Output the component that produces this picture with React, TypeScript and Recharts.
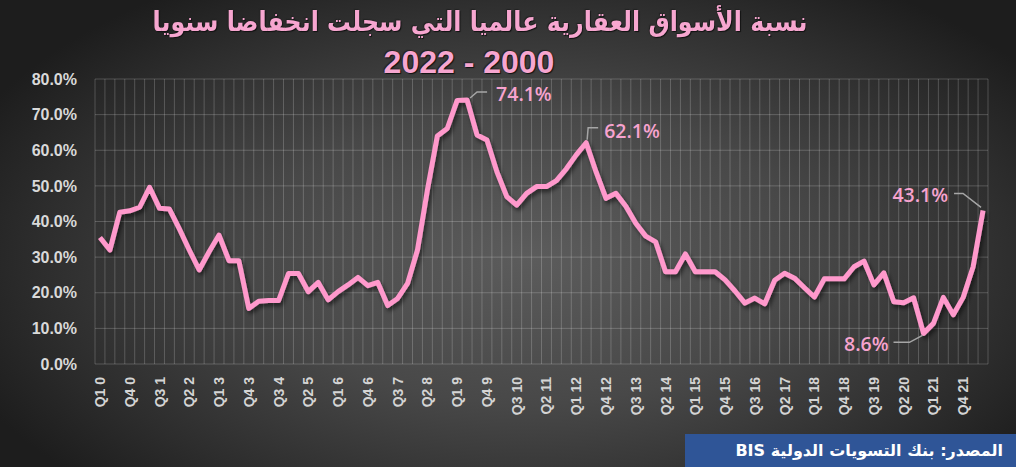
import React from 'react';
import { LineChart, Line, XAxis, YAxis, CartesianGrid } from 'recharts';

const quarters: string[] = [
  'Q1 0','Q2 0','Q3 0','Q4 0','Q1 1','Q2 1','Q3 1','Q4 1','Q1 2','Q2 2','Q3 2','Q4 2',
  'Q1 3','Q2 3','Q3 3','Q4 3','Q1 4','Q2 4','Q3 4','Q4 4','Q1 5','Q2 5','Q3 5','Q4 5',
  'Q1 6','Q2 6','Q3 6','Q4 6','Q1 7','Q2 7','Q3 7','Q4 7','Q1 8','Q2 8','Q3 8','Q4 8',
  'Q1 9','Q2 9','Q3 9','Q4 9','Q1 10','Q2 10','Q3 10','Q4 10','Q1 11','Q2 11','Q3 11','Q4 11',
  'Q1 12','Q2 12','Q3 12','Q4 12','Q1 13','Q2 13','Q3 13','Q4 13','Q1 14','Q2 14','Q3 14','Q4 14',
  'Q1 15','Q2 15','Q3 15','Q4 15','Q1 16','Q2 16','Q3 16','Q4 16','Q1 17','Q2 17','Q3 17','Q4 17',
  'Q1 18','Q2 18','Q3 18','Q4 18','Q1 19','Q2 19','Q3 19','Q4 19','Q1 20','Q2 20','Q3 20','Q4 20',
  'Q1 21','Q2 21','Q3 21','Q4 21','Q1 22','Q2 22',
];

const shareDeclining: number[] = [
  35.5, 32.0, 42.6, 43.0, 44.0, 49.6, 43.7, 43.5, 37.9, 32.0, 26.4, 31.5,
  36.2, 29.0, 29.0, 15.6, 17.6, 17.8, 17.8, 25.4, 25.4, 20.3, 22.9, 18.0,
  20.3, 22.2, 24.3, 22.0, 22.9, 16.4, 18.4, 22.6, 32.0, 48.8, 64.0, 66.1,
  74.0, 74.1, 64.3, 62.9, 54.0, 47.0, 44.6, 47.9, 49.8, 49.8, 51.5, 54.8,
  58.7, 62.1, 53.9, 46.5, 47.9, 44.3, 39.5, 35.9, 34.3, 25.9, 25.9, 30.9,
  25.9, 25.9, 25.9, 23.6, 20.5, 17.1, 18.5, 16.9, 23.5, 25.5, 24.1, 21.4,
  18.8, 23.9, 23.9, 23.9, 27.3, 28.9, 22.2, 25.6, 17.5, 17.2, 18.6, 8.6,
  11.4, 18.7, 13.8, 18.7, 27.3, 43.1,
];

const yTicks: number[] = [0, 10, 20, 30, 40, 50, 60, 70, 80];
const annotatedIndices: number[] = [37, 49, 83, 89];

const titleLine1 = 'نسبة الأسواق العقارية عالميا التي سجلت انخفاضا سنويا';
const titleLine2 = '2022 - 2000';
const sourceText = 'المصدر: بنك التسويات الدولية BIS';

const data = quarters.map((q, i) => ({ i, q, v: shareDeclining[i] }));

const PINK = '#FF99CC';
const LABEL_PINK = '#F7A3CF';
const LEADER = '#a6a6a6';

type AnnotStyle = { path: (x: number, y: number) => string; tx: number; ty: number; anchor: 'start' | 'end' };
const annotStyles: Record<number, AnnotStyle> = {
  37: { path: (x, y) => `M${x + 3},${y - 2} L${x + 10},${y - 8} L${x + 20},${y - 8}`, tx: 29, ty: -7, anchor: 'start' },
  49: { path: (x, y) => `M${x + 1},${y - 3} L${x + 2},${y - 15} L${x + 12},${y - 15}`, tx: 18, ty: -12, anchor: 'start' },
  83: { path: (x, y) => `M${x - 1},${y + 2} L${x - 14},${y + 9} L${x - 30},${y + 9}`, tx: -35, ty: 10, anchor: 'end' },
  89: { path: (x, y) => `M${x - 2},${y - 3} L${x - 20},${y - 17} L${x - 29},${y - 17}`, tx: -35, ty: -16, anchor: 'end' },
};

const renderDot = (props: any) => {
  const { cx, cy, payload, index } = props;
  const idx = payload && typeof payload.i === 'number' ? payload.i : index;
  if (!annotatedIndices.includes(idx)) return <g key={`d${index}`} />;
  const s = annotStyles[idx];
  return (
    <g key={`d${index}`}>
      <path d={s.path(cx, cy)} stroke={LEADER} strokeWidth={1.5} fill="none" />
      <text
        x={cx + s.tx}
        y={cy + s.ty}
        textAnchor={s.anchor}
        dominantBaseline="central"
        fill={LABEL_PINK}
        fontFamily="'Open Sans', sans-serif"
        fontWeight={600}
        fontSize={19.5}
      >
        {`${payload.v.toFixed(1)}%`}
      </text>
    </g>
  );
};

const renderXTick = (props: any) => {
  const { x, y, payload } = props;
  return (
    <text
      x={x}
      y={y}
      transform={`rotate(-90 ${x} ${y})`}
      textAnchor="end"
      dy="0.36em"
      fill="#d4d4d4"
      fontFamily="'Liberation Sans', Arial, sans-serif"
      fontWeight={700}
      fontSize={14}
    >
      {payload.value}
    </text>
  );
};

const verticalGen = (props: any) => {
  const o = props.offset;
  const n = quarters.length;
  const pts: number[] = [];
  for (let k = 0; k <= n; k++) pts.push(o.left + (k * o.width) / n);
  return pts;
};

export default function App() {
  return (
    <div
      style={{
        position: 'absolute',
        left: 0,
        top: 0,
        width: 1016,
        height: 467,
        overflow: 'hidden',
        background: 'radial-gradient(ellipse 60% 70% at 52% 55%, #5c5c5c 0%, #484848 45%, #2d2d2d 80%, #1d1d1d 100%)',
      }}
    >
      <div
        style={{
          position: 'absolute',
          left: 0,
          width: 960,
          top: 4,
          textAlign: 'center',
          direction: 'rtl',
          fontFamily: "'DejaVu Sans', sans-serif",
          fontWeight: 700,
          fontSize: 27,
          lineHeight: '36px',
          color: '#F7A6D0',
          textShadow: '1px 1px 1px #111, -1px -1px 1px #222',
          transform: 'scaleX(0.88)',
          transformOrigin: '480px 50%',
          whiteSpace: 'nowrap',
        }}
      >
        {titleLine1}
      </div>
      <div
        style={{
          position: 'absolute',
          left: 0,
          width: 938,
          top: 44,
          textAlign: 'center',
          direction: 'ltr',
          fontFamily: "'Liberation Sans', Arial, sans-serif",
          fontWeight: 700,
          fontSize: 32,
          lineHeight: '36px',
          color: '#F7A6D0',
          textShadow: '1px 1px 1px #111, -1px -1px 1px #222',
        }}
      >
        {titleLine2}
      </div>
      <LineChart
        width={1016}
        height={467}
        data={data}
        margin={{ top: 79, right: 28, bottom: 0, left: 0 }}
        style={{ position: 'absolute', left: 0, top: 0 }}
      >
        <defs>
          <filter id="lineShadow" x="-5%" y="-5%" width="110%" height="120%">
            <feDropShadow dx="2" dy="3" stdDeviation="2" floodColor="#000" floodOpacity="0.55" />
          </filter>
        </defs>
        <CartesianGrid stroke="rgba(255,255,255,0.2)" strokeWidth={1} verticalCoordinatesGenerator={verticalGen} />
        <XAxis
          dataKey="q"
          scale="band"
          interval={2}
          height={103}
          axisLine={false}
          tickLine={false}
          tickMargin={7}
          tick={renderXTick}
        />
        <YAxis
          domain={[0, 80]}
          ticks={yTicks}
          interval={0}
          width={95}
          axisLine={false}
          tickLine={false}
          tickMargin={12}
          tickFormatter={(v: number) => `${v.toFixed(1)}%`}
          tick={{ fill: '#d9d9d9', fontSize: 16, fontWeight: 700, fontFamily: "'Liberation Sans', Arial, sans-serif" }}
        />
        <Line
          type="linear"
          dataKey="v"
          stroke={PINK}
          strokeWidth={5}
          strokeLinejoin="round"
          filter="url(#lineShadow)"
          dot={renderDot}
          activeDot={false}
          isAnimationActive={false}
        />
      </LineChart>
      <div
        style={{
          position: 'absolute',
          left: 685,
          top: 434,
          width: 331,
          height: 33,
          background: '#2F5597',
          color: '#ffffff',
          direction: 'rtl',
          textAlign: 'right',
          boxSizing: 'border-box',
          paddingRight: 13,
          fontFamily: "'DejaVu Sans', sans-serif",
          fontWeight: 700,
          fontSize: 16,
          lineHeight: '33px',
        }}
      >
        {sourceText}
      </div>
    </div>
  );
}
